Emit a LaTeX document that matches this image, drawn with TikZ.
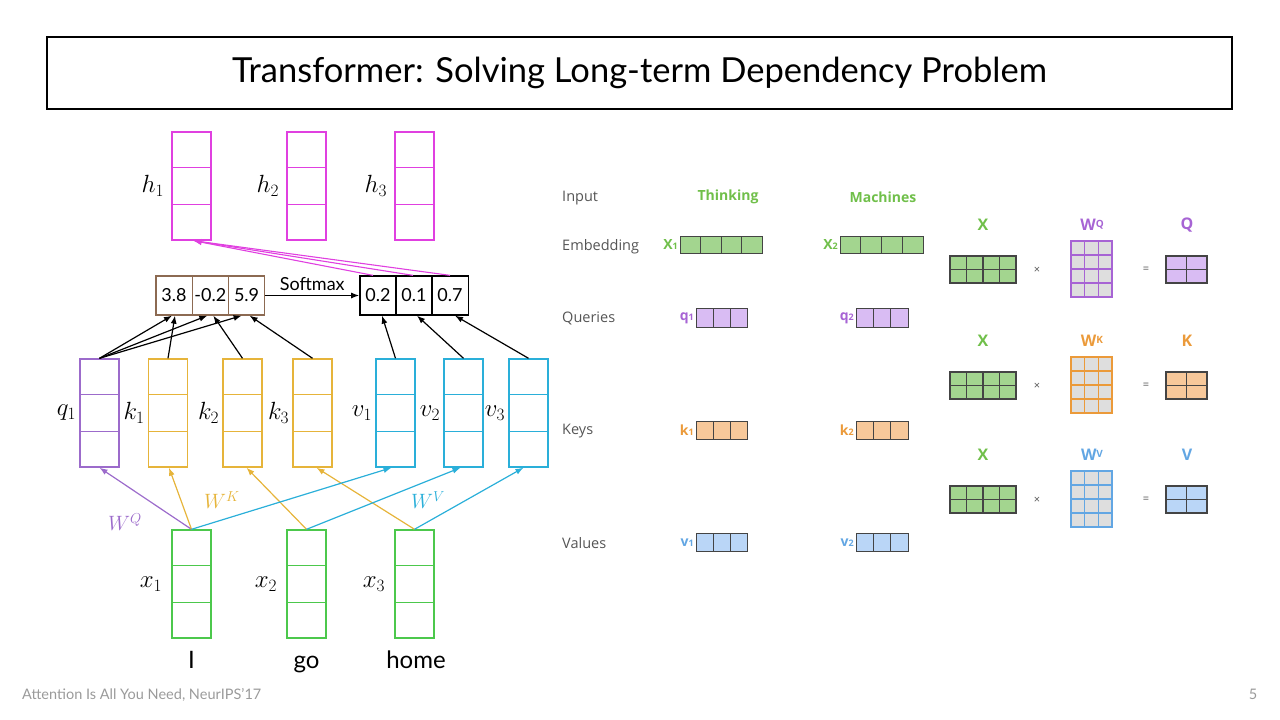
\documentclass[tikz,border=0pt]{standalone}
\usepackage{fontspec}
\setmainfont{Lato}
\newfontfamily\jayfont{Open Sans}
\usetikzlibrary{positioning,calc,arrows.meta}

\definecolor{hmag}{HTML}{E040E0}
\definecolor{qpur}{HTML}{9C6BCB}
\definecolor{kgold}{HTML}{E6B43A}
\definecolor{vcyan}{HTML}{2AAFD9}
\definecolor{xgrn}{HTML}{4CC84C}
\definecolor{sbrown}{HTML}{8C6A52}
\definecolor{jgrn}{HTML}{70BF4A}
\definecolor{jgrnfill}{HTML}{A3D58F}
\definecolor{jpur}{HTML}{A764D4}
\definecolor{jpurfill}{HTML}{D9BCF3}
\definecolor{jorg}{HTML}{EB9A3A}
\definecolor{jorgfill}{HTML}{F7C89A}
\definecolor{jblu}{HTML}{62A6E3}
\definecolor{jblufill}{HTML}{BAD6F7}
\definecolor{jtext}{HTML}{555555}
\definecolor{jdark}{HTML}{444444}
\definecolor{wgray}{HTML}{DEDEDE}
\definecolor{footgray}{HTML}{9A9A9A}

\tikzset{
  vecbox/.style={draw=#1, line width=1.4pt, minimum width=39pt, minimum height=108pt, inner sep=0pt},
  mlabel/.style={font=\fontsize{26}{26}\selectfont, inner sep=0pt},
  wlabel/.style={font=\fontsize{20}{20}\selectfont, text=#1, inner sep=0pt},
  scorebox/.style={draw=#1, line width=1.3pt, minimum width=36.3pt, minimum height=39pt, inner sep=0pt, font=\fontsize{18}{18}\selectfont},
  att/.style={->, line width=1.2pt, black},
  jlabel/.style={font=\jayfont\fontsize{14.5}{14.5}\selectfont, text=jtext, anchor=west, inner sep=0pt},
  jword/.style={font=\jayfont\bfseries\fontsize{14}{14}\selectfont, text=#1, inner sep=0pt},
  jmat/.style={font=\jayfont\bfseries\fontsize{16}{16}\selectfont, text=#1, inner sep=0pt},
}
% dividers of a 3-cell column vector
\newcommand\splitvec[2]{%
  \foreach \f in {0.3333,0.6667}
    \draw[#2, line width=1.4pt] ($(#1.north west)!\f!(#1.south west)$) -- ($(#1.north east)!\f!(#1.south east)$);
}
% row of n cells: x, y, n, cell width, height, fill
\newcommand\cellrow[6]{%
  \foreach \i in {1,...,#3}
    \draw[fill=#6, draw=jdark, line width=0.8pt] ({#1+(\i-1)*#4},#2) rectangle ++(#4,#5);
}
% matrix: x, y, cols, rows, cell w, cell h, fill, line
\newcommand\cellmat[8]{%
  \foreach \c in {1,...,#3}
    \foreach \r in {1,...,#4}
      \draw[fill=#7, draw=#8, line width=1.3pt] ({#1+(\c-1)*#5},{#2+(\r-1)*#6}) rectangle ++(#5,#6);
}

\begin{document}
\begin{tikzpicture}[x=1pt,y=-1pt,>={Latex[length=8pt,width=6pt]}]
  \useasboundingbox (0,0) rectangle (1280,720);
  % title
  \node[draw, line width=2.5pt, minimum width=1185pt, minimum height=72pt, font=\fontsize{34.5}{34.5}\selectfont] (title) at (639.5,73) {Transformer: Solving Long-term Dependency Problem};

  % outputs h
  \node[vecbox=hmag] (h1) at (191.5,186) {};
  \node[vecbox=hmag] (h2) at (306.5,186) {};
  \node[vecbox=hmag] (h3) at (414.5,186) {};
  \foreach \n in {h1,h2,h3} \splitvec{\n}{hmag};
  \node[mlabel, left=7pt of h1] (lh1) {$h_1$};
  \node[mlabel, left=7pt of h2] (lh2) {$h_2$};
  \node[mlabel, left=7pt of h3] (lh3) {$h_3$};

  % scores and softmax
  \node[scorebox=sbrown] (s1) at (174,295.5) {3.8};
  \node[scorebox=sbrown] (s2) at (210.3,295.5) {-0.2};
  \node[scorebox=sbrown] (s3) at (246.6,295.5) {5.9};
  \node[scorebox=black] (p1) at (378,295.5) {0.2};
  \node[scorebox=black] (p2) at (414,295.5) {0.1};
  \node[scorebox=black] (p3) at (450,295.5) {0.7};
  \draw[att] (s3.east) -- node[above=1pt, font=\fontsize{18}{18}\selectfont] (smax) {Softmax} (p1.west);

  % queries, keys, values
  \node[vecbox=qpur] (q1) at (99.5,413) {};
  \node[vecbox=kgold] (k1) at (168,413) {};
  \node[vecbox=kgold] (k2) at (242.5,413) {};
  \node[vecbox=kgold] (k3) at (312.5,413) {};
  \node[vecbox=vcyan] (v1) at (395.5,413) {};
  \node[vecbox=vcyan] (v2) at (463.5,413) {};
  \node[vecbox=vcyan] (v3) at (528.5,413) {};
  \splitvec{q1}{qpur}
  \foreach \n in {k1,k2,k3} \splitvec{\n}{kgold};
  \foreach \n in {v1,v2,v3} \splitvec{\n}{vcyan};
  \node[mlabel, left=3pt of q1] (lq1) {$q_1$};
  \node[mlabel, left=3pt of k1] (lk1) {$k_1$};
  \node[mlabel, left=3pt of k2] (lk2) {$k_2$};
  \node[mlabel, left=3pt of k3] (lk3) {$k_3$};
  \node[mlabel, left=3pt of v1] (lv1) {$v_1$};
  \node[mlabel, left=3pt of v2] (lv2) {$v_2$};
  \node[mlabel, left=3pt of v3] (lv3) {$v_3$};

  % inputs x
  \node[vecbox=xgrn] (x1) at (191.5,584) {};
  \node[vecbox=xgrn] (x2) at (306.5,584) {};
  \node[vecbox=xgrn] (x3) at (414.5,584) {};
  \foreach \n in {x1,x2,x3} \splitvec{\n}{xgrn};
  \node[mlabel, left=9pt of x1] (lx1) {$x_1$};
  \node[mlabel, left=9pt of x2] (lx2) {$x_2$};
  \node[mlabel, left=9pt of x3] (lx3) {$x_3$};
  \node[font=\fontsize{24}{24}\selectfont, anchor=base] (w1) at (191.5,668) {I};
  \node[font=\fontsize{24}{24}\selectfont, anchor=base] (w2) at (306.5,668) {go};
  \node[font=\fontsize{24}{24}\selectfont, anchor=base] (w3) at (416,668) {home};

  % projections
  \draw[->, qpur, line width=1.2pt] (x1.north) -- (q1.south);
  \draw[->, kgold, line width=1.2pt] (x1.north) -- ([xshift=1pt]k1.south);
  \draw[->, kgold, line width=1.2pt] (x2.north) -- ([xshift=4pt]k2.south);
  \draw[->, kgold, line width=1.2pt] (x3.north) -- ([xshift=4pt]k3.south);
  \draw[->, vcyan, line width=1.2pt] (x1.north) -- ([xshift=-4pt]v1.south);
  \draw[->, vcyan, line width=1.2pt] (x2.north) -- ([xshift=-3pt]v2.south);
  \draw[->, vcyan, line width=1.2pt] (x3.north) -- ([xshift=-5pt]v3.south);
  \node[wlabel=qpur] (wq) at (125,522) {$W^Q$};
  \node[wlabel=kgold] (wk) at (222,500) {$W^K$};
  \node[wlabel=vcyan] (wv) at (428,500) {$W^V$};

  % attention scores
  \draw[att] (q1.north) -- ([xshift=-2pt]s1.south);
  \draw[att] (q1.north) -- ([xshift=-3pt]s2.south);
  \draw[att] (q1.north) -- ([xshift=-5pt]s3.south);
  \draw[att] (k1.north) -- ([xshift=1pt]s1.south);
  \draw[att] (k2.north) -- ([xshift=3pt]s2.south);
  \draw[att] (k3.north) -- ([xshift=3pt]s3.south);
  \draw[att] (v1.north) -- ([xshift=4pt]p1.south);
  \draw[att] (v2.north) -- ([xshift=3pt]p2.south);
  \draw[att] (v3.north) -- ([xshift=5pt]p3.south);

  % weighted sum into h1
  \draw[->, hmag, line width=1.1pt] ([xshift=-5pt]p1.north) -- ([xshift=2pt]h1.south);
  \draw[->, hmag, line width=1.1pt] ([xshift=-1pt]p2.north) -- ([xshift=2pt]h1.south);
  \draw[->, hmag, line width=1.1pt] (p3.north) -- ([xshift=2pt]h1.south);

  % right: vectors per word
  \node[jlabel] (tin) at (562,198) {Input};
  \node[jlabel] (temb) at (562,247) {Embedding};
  \node[jlabel] (tq) at (562,318) {Queries};
  \node[jlabel] (tk) at (562,431) {Keys};
  \node[jlabel] (tv) at (562,543) {Values};
  \node[jword=jgrn] (think) at (728,197) {Thinking};
  \node[jword=jgrn] (mach) at (883,197) {Machines};
  \cellrow{680}{236}{4}{20.5}{17}{jgrnfill}
  \cellrow{840}{236}{4}{20.75}{17}{jgrnfill}
  \cellrow{696}{308}{3}{17}{19}{jpurfill}
  \cellrow{856}{308}{3}{17.3}{19}{jpurfill}
  \cellrow{696}{421}{3}{17}{18}{jorgfill}
  \cellrow{856}{421}{3}{17.3}{18}{jorgfill}
  \cellrow{696}{533}{3}{17}{18}{jblufill}
  \cellrow{856}{533}{3}{17.3}{18}{jblufill}
  \node[jword=jgrn, anchor=east] (ex1) at (678,245) {X{\fontsize{9}{9}\selectfont 1}};
  \node[jword=jgrn, anchor=east] (ex2) at (838,245) {X{\fontsize{9}{9}\selectfont 2}};
  \node[jword=jpur, anchor=east] (eq1) at (694,318) {q{\fontsize{9}{9}\selectfont 1}};
  \node[jword=jpur, anchor=east] (eq2) at (854,318) {q{\fontsize{9}{9}\selectfont 2}};
  \node[jword=jorg, anchor=east] (ek1) at (694,430) {k{\fontsize{9}{9}\selectfont 1}};
  \node[jword=jorg, anchor=east] (ek2) at (854,430) {k{\fontsize{9}{9}\selectfont 2}};
  \node[jword=jblu, anchor=east] (ev1) at (694,543) {v{\fontsize{9}{9}\selectfont 1}};
  \node[jword=jblu, anchor=east] (ev2) at (854,543) {v{\fontsize{9}{9}\selectfont 2}};

  % right: matrix form
  \foreach \dy/\lt/\cl/\cf in {0/Q/jpur/jpurfill, 116/K/jorg/jorgfill, 230/V/jblu/jblufill} {
    \node[jmat=jgrn] at (983,225+\dy) {X};
    \node[jmat=\cl] at (1092,225+\dy) {W\raisebox{3pt}{\fontsize{10}{10}\selectfont\lt}};
    \node[jmat=\cl] at (1187,225+\dy) {\lt};
    \cellmat{950}{256+\dy}{4}{2}{16.5}{13.5}{jgrnfill}{jdark}
    \cellmat{1071}{241+\dy}{3}{4}{13.67}{14}{wgray}{\cl}
    \cellmat{1166}{256+\dy}{2}{2}{20.5}{13.5}{\cf}{jdark}
    \node[font=\jayfont\fontsize{11}{11}\selectfont, text=jtext] at (1037,270+\dy) {×};
    \node[font=\jayfont\fontsize{11}{11}\selectfont, text=jtext] at (1146,270+\dy) {=};
  }

  % footer
  \node[anchor=base west, inner sep=0pt, text=footgray, font=\fontsize{14.5}{14.5}\selectfont] (foot) at (22,699) {Attention Is All You Need, NeurIPS'17};
  \node[anchor=base, inner sep=0pt, text=footgray, font=\fontsize{14.5}{14.5}\selectfont] (pgno) at (1253,699) {5};
\end{tikzpicture}
\end{document}
